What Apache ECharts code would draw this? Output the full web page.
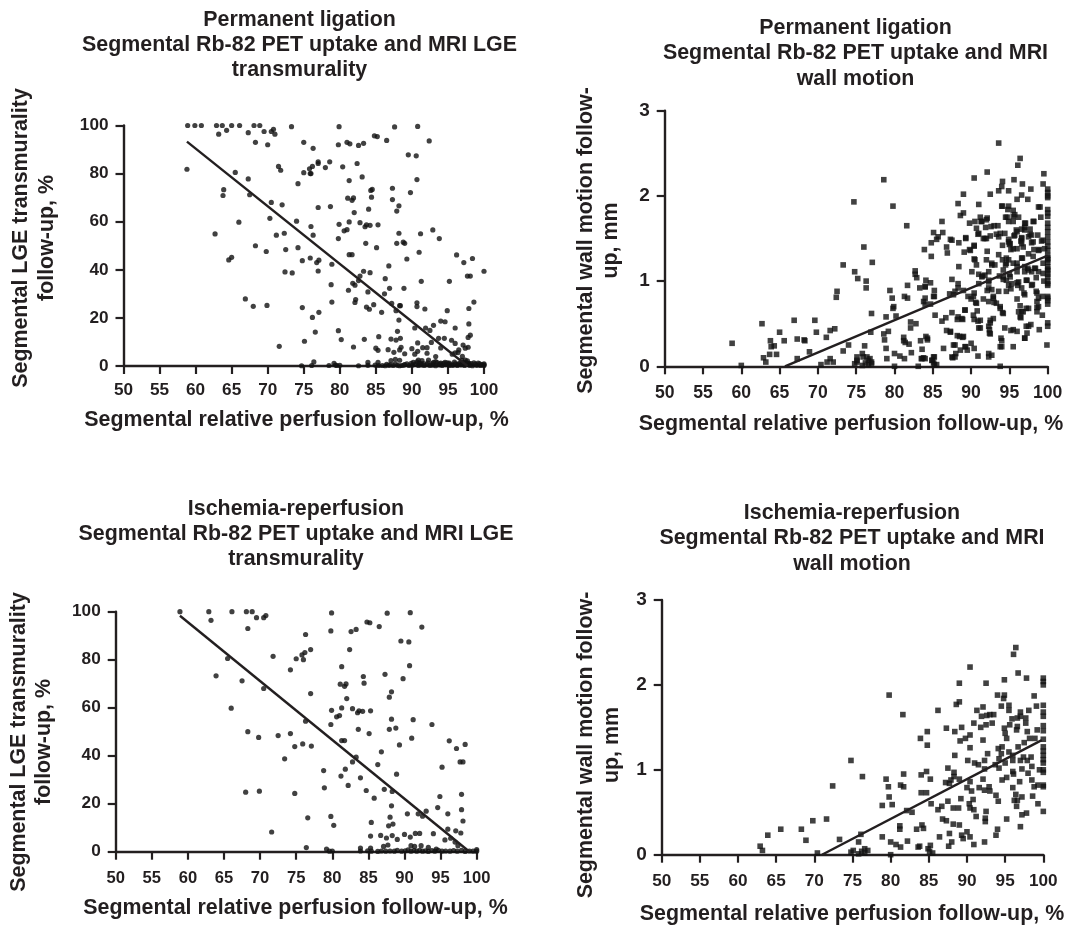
<!DOCTYPE html>
<html><head><meta charset="utf-8">
<style>html,body{margin:0;padding:0;background:#fff}#c{width:1068px;height:926px}</style>
<script src="https://cdn.jsdelivr.net/npm/echarts@6/dist/echarts.min.js"></script></head>
<body><div id="c"></div>
<script>
const xTicks=[50,55,60,65,70,75,80,85,90,95,100];
const lgeTicks=[0,20,40,60,80,100];
const wmTicks=[0,1,2,3];
// LGE points present in both groups (ischemia-reperfusion)
const lgeIschemia=[[58.9,100],[62.9,100],[63.2,96.4],[66.1,100],[68.1,100],[68.9,100],[69.5,97.5],[70.5,97.5],[70.8,98.4],[68.3,93],[76.3,90.5],[79.9,99.5],[79.8,92],[82.6,91.7],[83.3,92.6],[84.8,95.7],[85.2,95.4],[86.5,93.8],[87.6,99.4],[90.8,99.6],[92.4,93.6],[89.5,87.8],[90.6,87.4],[71.8,81.4],[75,80.4],[75.8,82],[76,80],[76.2,83],[77,84.2],[82.4,84.2],[74.2,75.8],[65.5,80.5],[81.3,77.1],[90.7,77.5],[63.9,73.3],[67.5,71.2],[70.5,68],[77,65.9],[84.3,73],[84.4,70.2],[87.3,73.9],[88.2,66.6],[87.9,64.4],[89.8,72.1],[81.1,69.8],[81.7,68.9],[81.9,69.9],[82,63.8],[66,59.8],[79.9,58.9],[81.3,59.9],[82.8,59.6],[83.7,58.7],[84.2,58.5],[83.5,57.9],[85.3,58.7],[81,56.7],[80.6,56.2],[76.3,54.4],[79.8,53],[88.2,55.2],[91.2,55],[93.8,53],[87.9,51],[88.8,51.5],[83.6,51],[85.1,49.2],[68.3,50],[72.5,48.4],[74.2,49.2],[69.8,47.6],[91,47.3],[81.3,46.3],[81.7,46.3],[75.9,44.9],[77.1,44],[74.8,43.8],[89.3,44.5],[96.2,46.2],[98.4,44.7],[97.2,43],[86.8,41.6],[73.4,38.7],[82.8,37.4],[83.3,39.4],[86.3,36.3],[97.7,37.4],[98.1,37.4],[95.2,35.2],[78.8,33.8],[81.8,34.4],[81.2,31.5],[88.9,32.3],[83.9,30.8],[82.2,27.6],[87.2,26],[68,24.8],[69.9,25.2],[74.8,24.3],[78.9,26.6],[84.7,25.5],[85.8,22.3],[88.3,25.1],[97.9,23.9],[94.9,23],[88.2,19.1],[94.6,18.4],[97.9,17.5],[90.4,15.8],[91.9,15.8],[92.5,14.8],[93,16.9],[96,15.8],[76.6,14.1],[79.8,14.7],[88,14.4],[98.1,12.8],[85.4,12.2],[80.2,11],[88.4,11.5],[87.8,10.8],[71.6,8.2],[85.3,6.5],[86.7,6.8],[87.5,5.7],[88.3,6.7],[89,5.1],[90,7.2],[90.8,6.1],[91.5,7.6],[92.1,7.6],[94,7.5],[96,9.4],[97.1,8.7],[97.8,7.8],[95.6,4.9],[96.4,5.6],[97,4],[97.4,2.5],[76.4,1.7],[83.9,1.5],[85.3,1.5],[87.7,2.8],[87.1,2.2],[90.9,2.5],[91.4,2.2],[92.3,2.5],[93.3,1.8],[94.4,1.1],[79.2,1.1],[79.6,0.2],[80,0.3],[83.9,0.3],[84.9,0.4],[85.4,0.2],[86.3,0.1],[86.8,0.3],[87.4,0.2],[88,0.3],[88.6,0.2],[89,0.6],[89.6,0.2],[90.1,0.4],[90.5,0.8],[90.9,0.2],[91.3,0.5],[91.7,0.2],[92.1,0.6],[92.5,0.2],[92.9,0.4],[93.3,0.1],[93.8,0.5],[94.2,0.2],[94.7,0.6],[95.2,0.2],[95.7,0.3],[96.3,0.2],[96.8,0.5],[97.3,0.2],[97.9,0.6],[98.4,0.1],[99,0.3],[99.5,0.2],[100,0.2],[100,0.9]];
// LGE points seen only in the permanent ligation panel
const lgeLigationOnly=[[59.9,100],[60.8,100],[63.7,100],[65,100],[73.3,99.5],[64.3,98],[67.3,97],[71,96.4],[70,92],[75,93],[81,93],[81.4,92.4],[71.5,83],[78.6,84.9],[77,84.9],[75.9,80],[78,82.5],[80.4,82.8],[83.1,78.6],[58.8,81.8],[67.3,77.8],[63.8,70.9],[84.5,73.4],[87.3,69.2],[72,67],[78.7,66.3],[84,65.2],[70.3,61.4],[74,60.2],[76,58],[92.9,56.6],[62.7,54.9],[72.3,55.2],[71.2,54.4],[89,51],[64.6,44.1],[65,45.2],[76.8,43],[78.9,42.3],[72.4,39.1],[77,39.5],[84.2,38.8],[100,39.4],[91.3,35.2],[82.1,33.6],[82.6,35.5],[86.9,32.3],[86.2,30],[66.9,27.9],[82.1,26.4],[90.7,26.3],[90.7,24.7],[88.4,25.1],[83.7,24.5],[84.1,23.6],[98.6,26.6],[91.8,23.7],[87.8,23],[77.1,22.3],[76.2,20.2],[94,18.7],[97.8,11.9],[83.4,11.1],[75.1,10.3],[87.1,11.2],[93.7,11.5],[94.5,11.5],[95.5,10.7],[92.7,9.8],[90.8,9.6],[81.9,7.9],[85,7.4],[88.5,7.8],[90.4,4.9],[92.1,5.3],[97.4,7.4],[96.5,6.7],[96,5.5],[93.3,3.9],[88.3,2.4],[97.9,1.1],[74.7,0.1],[76.1,0.2],[78.5,0.2],[79.4,0.4],[82.6,0.1],[85.9,0.2],[87,0.5],[88.3,0.1],[89.3,0.9],[90.2,1.5],[91,1.2],[91.6,1],[92.2,1.3],[92.8,1],[93.5,1.4],[94,1.2],[94.6,1.5],[95.1,0.8],[95.5,0.5],[96,0.9],[96.6,1.2],[97,0.8],[97.6,1.3],[98.2,1],[98.8,0.8],[99.2,1.2],[99.7,0.6],[100,0.5],[95.2,1.2],[95.9,1.6],[96.4,0.7],[97.2,1.5],[98,0.3],[98.6,1.3],[99.4,0.9],[89.9,1.1],[90.7,1.7],[91.2,1],[93,1.5],[93.9,0.9],[94.9,1.3],[86.5,0.7],[87.7,0.9],[88.9,0.4],[97.7,2.1],[96.9,2.4]];
// Wall-motion points present in both groups
const wmIschemia=[[62.9,.1],[63.2,.05],[63.9,.23],[65.6,.3],[68.3,.3],[68.9,.17],[69.8,.4],[70.4,.02],[71.6,.42],[72.4,.81],[73.3,.18],[74.8,1.11],[74.8,.03],[75.1,.05],[75.8,.15],[76.1,.24],[76.3,.92],[75.8,.01],[76.2,.04],[76.6,.07],[77,.05],[76.6,.02],[78.9,.21],[78.9,.58],[79.4,.89],[79.7,.8],[79.8,1.88],[79.8,.68],[80.2,.59],[80,.15],[80,0],[80.7,.12],[81.3,.09],[81.2,.34],[81.2,.3],[81.3,.82],[81.7,.8],[81.7,.95],[81.6,1.65],[82.2,.16],[82.1,.52],[82.8,.5],[83.4,.3],[83.6,.09],[83.8,.1],[83.9,1.37],[84,.94],[84,.73],[84.1,.35],[84.3,.31],[84.7,.73],[84.7,.98],[84.8,1.45],[84.8,1.29],[84.9,.07],[85.2,.11],[85.1,.04],[85.5,.02],[85.2,.89],[85.3,.6],[86.2,.53],[86.2,1.7],[86.4,.21],[86.7,.57],[86.8,.42],[87.3,.4],[87.3,1.49],[87.5,.63],[87.5,1.02],[87.2,.85],[87.7,.84],[87.7,.25],[87.6,.1],[88,.15],[87.9,.88],[88.2,.55],[88.2,.36],[88.4,1.17],[88.4,1.45],[88.3,.97],[88.3,.92],[88.6,1.77],[89,1.8],[89,2.02],[88.9,.55],[89,.35],[89.1,1.34],[89,.89],[89.3,1.5],[89.2,.66],[89.3,.23],[89.5,.19],[89.8,1.37],[90,.27],[90,.79],[90.1,1.11],[90.4,1.41],[90.4,2.21],[90.4,1.26],[90.4,.86],[90.3,.6],[90.4,.55],[90.4,.21],[90.6,.75],[90.8,.65],[90.9,.53],[90.9,.12],[90.9,1.55],[91,1.08],[91.2,.45],[91.3,1.7],[91.5,1.06],[91.6,.79],[91.8,1.5],[92.1,1.74],[91.9,1.63],[92.1,1.35],[92.1,.89],[92.3,1.11],[92.3,1.01],[92.3,.76],[92.3,.15],[92.5,2.02],[92.6,1.64],[92.5,1.53],[92.7,1.19],[92.5,.51],[92.4,.43],[92.4,.39],[93,1.65],[93.5,1.65],[93.3,1.55],[92.9,.8],[93,.75],[93.8,.7],[93.8,.23],[94,.3],[94.1,.63],[94,1.88],[93.7,1.06],[94.1,1.25],[94.2,1.13],[94.2,1.02],[94.5,1.75],[94.9,2.06],[94.9,1.88],[94.8,1.84],[94.9,1.49],[95,1.43],[95.2,1.37],[94.6,1.27],[94.5,1.19],[95,1.08],[94.6,.88],[95.2,.91],[95.2,.42],[95.5,1.76],[95.5,1.7],[95.6,1.53],[95.9,1.6],[95.5,1.21],[96,1.17],[96,1.11],[96,.98],[96.1,.95],[96,.79],[96.1,2.36],[96.4,2.44],[96.7,2.14],[96.4,.71],[96.2,.64],[96.6,.64],[96.5,.57],[96.7,1.27],[96.5,1.47],[96.6,1.51],[96.6,1.61],[97,1.68],[97,1.63],[97,1.11],[96.9,.86],[97,.33],[97.2,1.01],[97.2,.68],[97.2,.47],[97.4,1.15],[97.5,1.32],[97.7,1.61],[97.7,1.55],[97.8,2.08],[97.8,.49],[97.9,1.45],[97.9,1.11],[98,.96],[98.1,1.7],[98.2,1.37],[98.5,1.04],[98.4,1.15],[98.5,.88],[98.6,.69],[98.8,.8],[98.8,1.87],[98.9,1.37],[99.1,1.75],[99.2,1.47],[99.3,.82],[99.3,.6],[99.5,1],[100,2.08],[100,2.04],[100,2],[100,1.76],[100,1.68],[100,1.63],[100,1.52],[100,1.46],[100,1.36],[100,1.27],[100,1.22],[100,1.17],[100,1.12],[100,1.08],[100,1],[100,.97],[100,.82],[100,.8],[100,.51]];
// Wall-motion points seen only in the permanent ligation panel
const wmLigationOnly=[[58.8,.27],[60,.01],[62.7,.5],[63.8,.3],[64.3,.24],[63.7,.14],[64.6,.14],[65,.4],[66.9,.54],[67.3,.32],[67.3,.09],[68.2,.31],[69.6,.54],[71.1,.34],[71.6,.09],[71.2,.05],[72,.05],[72.2,.44],[72.5,.88],[73.3,1.19],[74,.25],[74.7,1.93],[75.2,1.03],[75.1,.11],[75.1,.07],[76,1.4],[76.3,1],[77.1,1.22],[77,.62],[76.9,.4],[75.9,.11],[76.4,.11],[76.8,.09],[77,.03],[78.6,2.19],[78.6,.38],[79.2,.41],[78.7,.31],[79,.09],[79.9,.7],[81.4,.28],[82.1,.45],[81.9,.26],[82.7,1.12],[82.7,1.08],[82.9,1.04],[83.3,.92],[84,.93],[84.1,1.01],[84,.8],[83.8,.76],[84.3,.33],[83.6,.2],[83.5,.09],[84,.09],[83.1,0],[85.1,.82],[85.2,.82],[85.1,1.57],[85.7,1.52],[85.5,1.49],[86.3,1.57],[86.8,1.4],[86.9,1.33],[87.5,1.48],[88.3,1.91],[89.3,1.51],[91,1.9],[92.1,2.28],[93.6,2.06],[94.1,2.17],[94,2.11],[93.6,2.62],[94.1,1.88],[95.6,2.19],[96.6,2.01],[96,1.96],[97.4,1.96],[99.5,2.26],[99.4,2.14],[99,1.87],[91.2,1.75],[92,1.72],[91.4,1.7],[90.5,1.7],[89.8,1.68],[94.7,1.75],[95.5,1.83],[95.7,1.78],[96.2,1.75],[94.9,1.7],[98.2,1.7],[97.1,1.68],[97,1.6],[96,1.58],[95.7,1.54],[90.7,1.62],[91,1.56],[91.6,1.5],[92,1.5],[93.8,1.56],[94.4,1.56],[93.6,1.52],[94.9,1.46],[96.6,1.5],[97.5,1.52],[97.9,1.54],[98.7,1.54],[98.1,1.46],[99.4,1.48],[90.4,1.42],[89.9,1.36],[94.1,1.42],[93.6,1.31],[95.1,1.44],[95.5,1.38],[96,1.38],[96.6,1.44],[96.8,1.4],[98.1,1.29],[98.8,1.36],[99.6,1.38],[90.5,1.25],[90.7,1.19],[92,1.25],[92.7,1.21],[93.1,1.19],[94.9,1.25],[94.6,1.21],[96,1.21],[96.6,1.27],[97,1.17],[97.5,1.13],[98.3,1.15],[98.8,1.11],[99.4,1.21],[99.4,1.09],[91.8,1.07],[91.4,1.05],[91,.97],[92.3,.99],[92.7,.9],[92.3,.92],[93.6,.88],[94.2,1.05],[94.6,1.01],[95.1,1.05],[95.3,.97],[94.9,.95],[96.2,.99],[96.6,.92],[97.3,1.01],[97.9,.95],[98.6,.86],[98.6,.76],[98.8,.7],[98.6,.64],[97,.84],[92.9,.82],[93.3,.74],[93.8,.68],[94.2,.62],[90.7,.74],[90.3,.82],[89.6,.82],[89.2,.66],[97.5,.68],[96.4,.58],[96.8,.64],[97.5,.47],[97.3,.39],[97,.33],[95.5,.43],[96,.41],[94.4,.45],[92.5,.54],[92.9,.56],[92.3,.47],[92.5,.38],[92.3,.11],[92.7,.13],[93.8,0],[94,.23],[93.9,.33],[95.5,.23],[99.9,.25],[98.9,.43],[91.2,.54],[91,.45],[89.2,.23],[88.6,.19],[87.9,.11],[87.5,.11],[87.9,.25],[87.3,.41],[88.3,.58],[88.8,.56],[88.5,.35],[88.9,.34],[85.1,.11],[84.9,.07],[85.2,.02],[100,1.98],[100,1.8],[100,1.84],[100,1.58],[100,1.41],[100,1.3],[100,1.25],[100,1.14],[100,1.05],[100,.95],[100,.77],[100,.73],[100,.47]];
const lgeLigationAll=lgeIschemia.concat(lgeLigationOnly);
const wmLigationAll=wmIschemia.concat(wmLigationOnly);
const fitLgeLigation=[[58.8,93.3],[97.7,0]];
const fitLgeIschemia=[[58.9,98.3],[99,0]];
const fitWmLigation=[[65.7,0],[100,1.3]];
const fitWmIschemia=[[71,0],[99.8,1.35]];
const xLabel='Segmental relative perfusion follow-up, %';
const lgeLabel='Segmental LGE transmurality\nfollow-up, %';
const wmLabel='Segmental wall motion follow-\nup, mm';

const INK='#231f20', FONT='"Liberation Sans",Arial,sans-serif';
const panels=[
 {pts:lgeLigationAll,fit:fitLgeLigation,sym:'circle',size:5.2,l:123.5,r:484,t:125.5,b:366,ymax:100,yi:20,yn:lgeLabel,xm:16,xf:17.2,xnx:296.5,xny:420,ynx:34,yny:238,tc:299.5,ty:8,lh:25,title:'Permanent ligation\nSegmental Rb-82 PET uptake and MRI LGE\ntransmurality'},
 {pts:wmLigationAll,fit:fitWmLigation,sym:'rect',size:5.6,l:664.7,r:1047.7,t:110.7,b:366.3,ymax:3,yi:1,yn:wmLabel,xm:18,xf:17.6,xnx:851,xny:424,ynx:598.5,yny:240.5,tc:855.5,ty:15,lh:25.5,title:'Permanent ligation\nSegmental Rb-82 PET uptake and MRI\nwall motion'},
 {pts:lgeIschemia,fit:fitLgeIschemia,sym:'circle',size:5.2,l:115.7,r:476.7,t:611.7,b:851.7,ymax:100,yi:20,yn:lgeLabel,xm:18,xf:16.6,xnx:295.5,xny:907.7,ynx:31.5,yny:742,tc:296,ty:496.5,lh:25,title:'Ischemia-reperfusion\nSegmental Rb-82 PET uptake and MRI LGE\ntransmurality'},
 {pts:wmIschemia,fit:fitWmIschemia,sym:'rect',size:5.6,l:661.7,r:1043.3,t:600,b:854.7,ymax:3,yi:1,yn:wmLabel,xm:18,xf:17.2,xnx:852,xny:913.7,ynx:599,yny:745,tc:852,ty:500,lh:25.5,title:'Ischemia-reperfusion\nSegmental Rb-82 PET uptake and MRI\nwall motion'}
];
const W=1068,H=926;
const axisStyle={axisLine:{show:true,onZero:false,lineStyle:{color:INK,width:2.4}},axisTick:{show:true,length:8,lineStyle:{color:INK,width:2.2}},splitLine:{show:false}};
const boldFont='bold 21.4px "Liberation Sans",Arial,sans-serif';
const labelStyle={color:INK,fontFamily:FONT,fontWeight:'bold'};
const option={animation:false,backgroundColor:'#fff',
 title:panels.map(p=>({text:p.title,left:p.tc,top:p.ty,padding:0,textAlign:'center',textStyle:{color:INK,fontFamily:FONT,fontWeight:'bold',fontSize:21.4,lineHeight:p.lh}})),
 grid:panels.map(p=>({left:p.l,top:p.t,width:p.r-p.l,height:p.b-p.t})),
 xAxis:panels.map((p,i)=>Object.assign({type:'value',gridIndex:i,min:xTicks[0],max:xTicks[xTicks.length-1],interval:5,axisLabel:Object.assign({margin:p.xm,fontSize:p.xf,showMinLabel:true,showMaxLabel:true},labelStyle)},axisStyle)),
 yAxis:panels.map((p,i)=>Object.assign({type:'value',gridIndex:i,min:0,max:p.ymax,interval:p.yi,axisLabel:Object.assign({margin:15,fontSize:p.ymax===3?19:17.2},labelStyle)},axisStyle)),
 graphic:{elements:panels.flatMap(p=>[
  {type:'text',x:p.xnx,y:p.xny,silent:true,style:{text:xLabel,font:boldFont,fill:INK,align:'center',verticalAlign:'middle'}},
  {type:'text',x:p.ynx,y:p.yny,rotation:Math.PI/2,silent:true,style:{text:p.yn,font:boldFont,lineHeight:25.5,fill:INK,align:'center',verticalAlign:'middle'}}
 ])},
 series:panels.flatMap((p,i)=>[
  {type:'scatter',xAxisIndex:i,yAxisIndex:i,data:p.pts,symbol:p.sym,symbolSize:p.size,clip:false,itemStyle:{color:'#111'},silent:true},
  {type:'line',xAxisIndex:i,yAxisIndex:i,data:p.fit,showSymbol:false,symbol:'none',clip:false,lineStyle:{color:INK,width:2.4},silent:true}
 ])
};
echarts.init(document.getElementById('c'),null,{renderer:'canvas',width:W,height:H}).setOption(option);
</script></body></html>
